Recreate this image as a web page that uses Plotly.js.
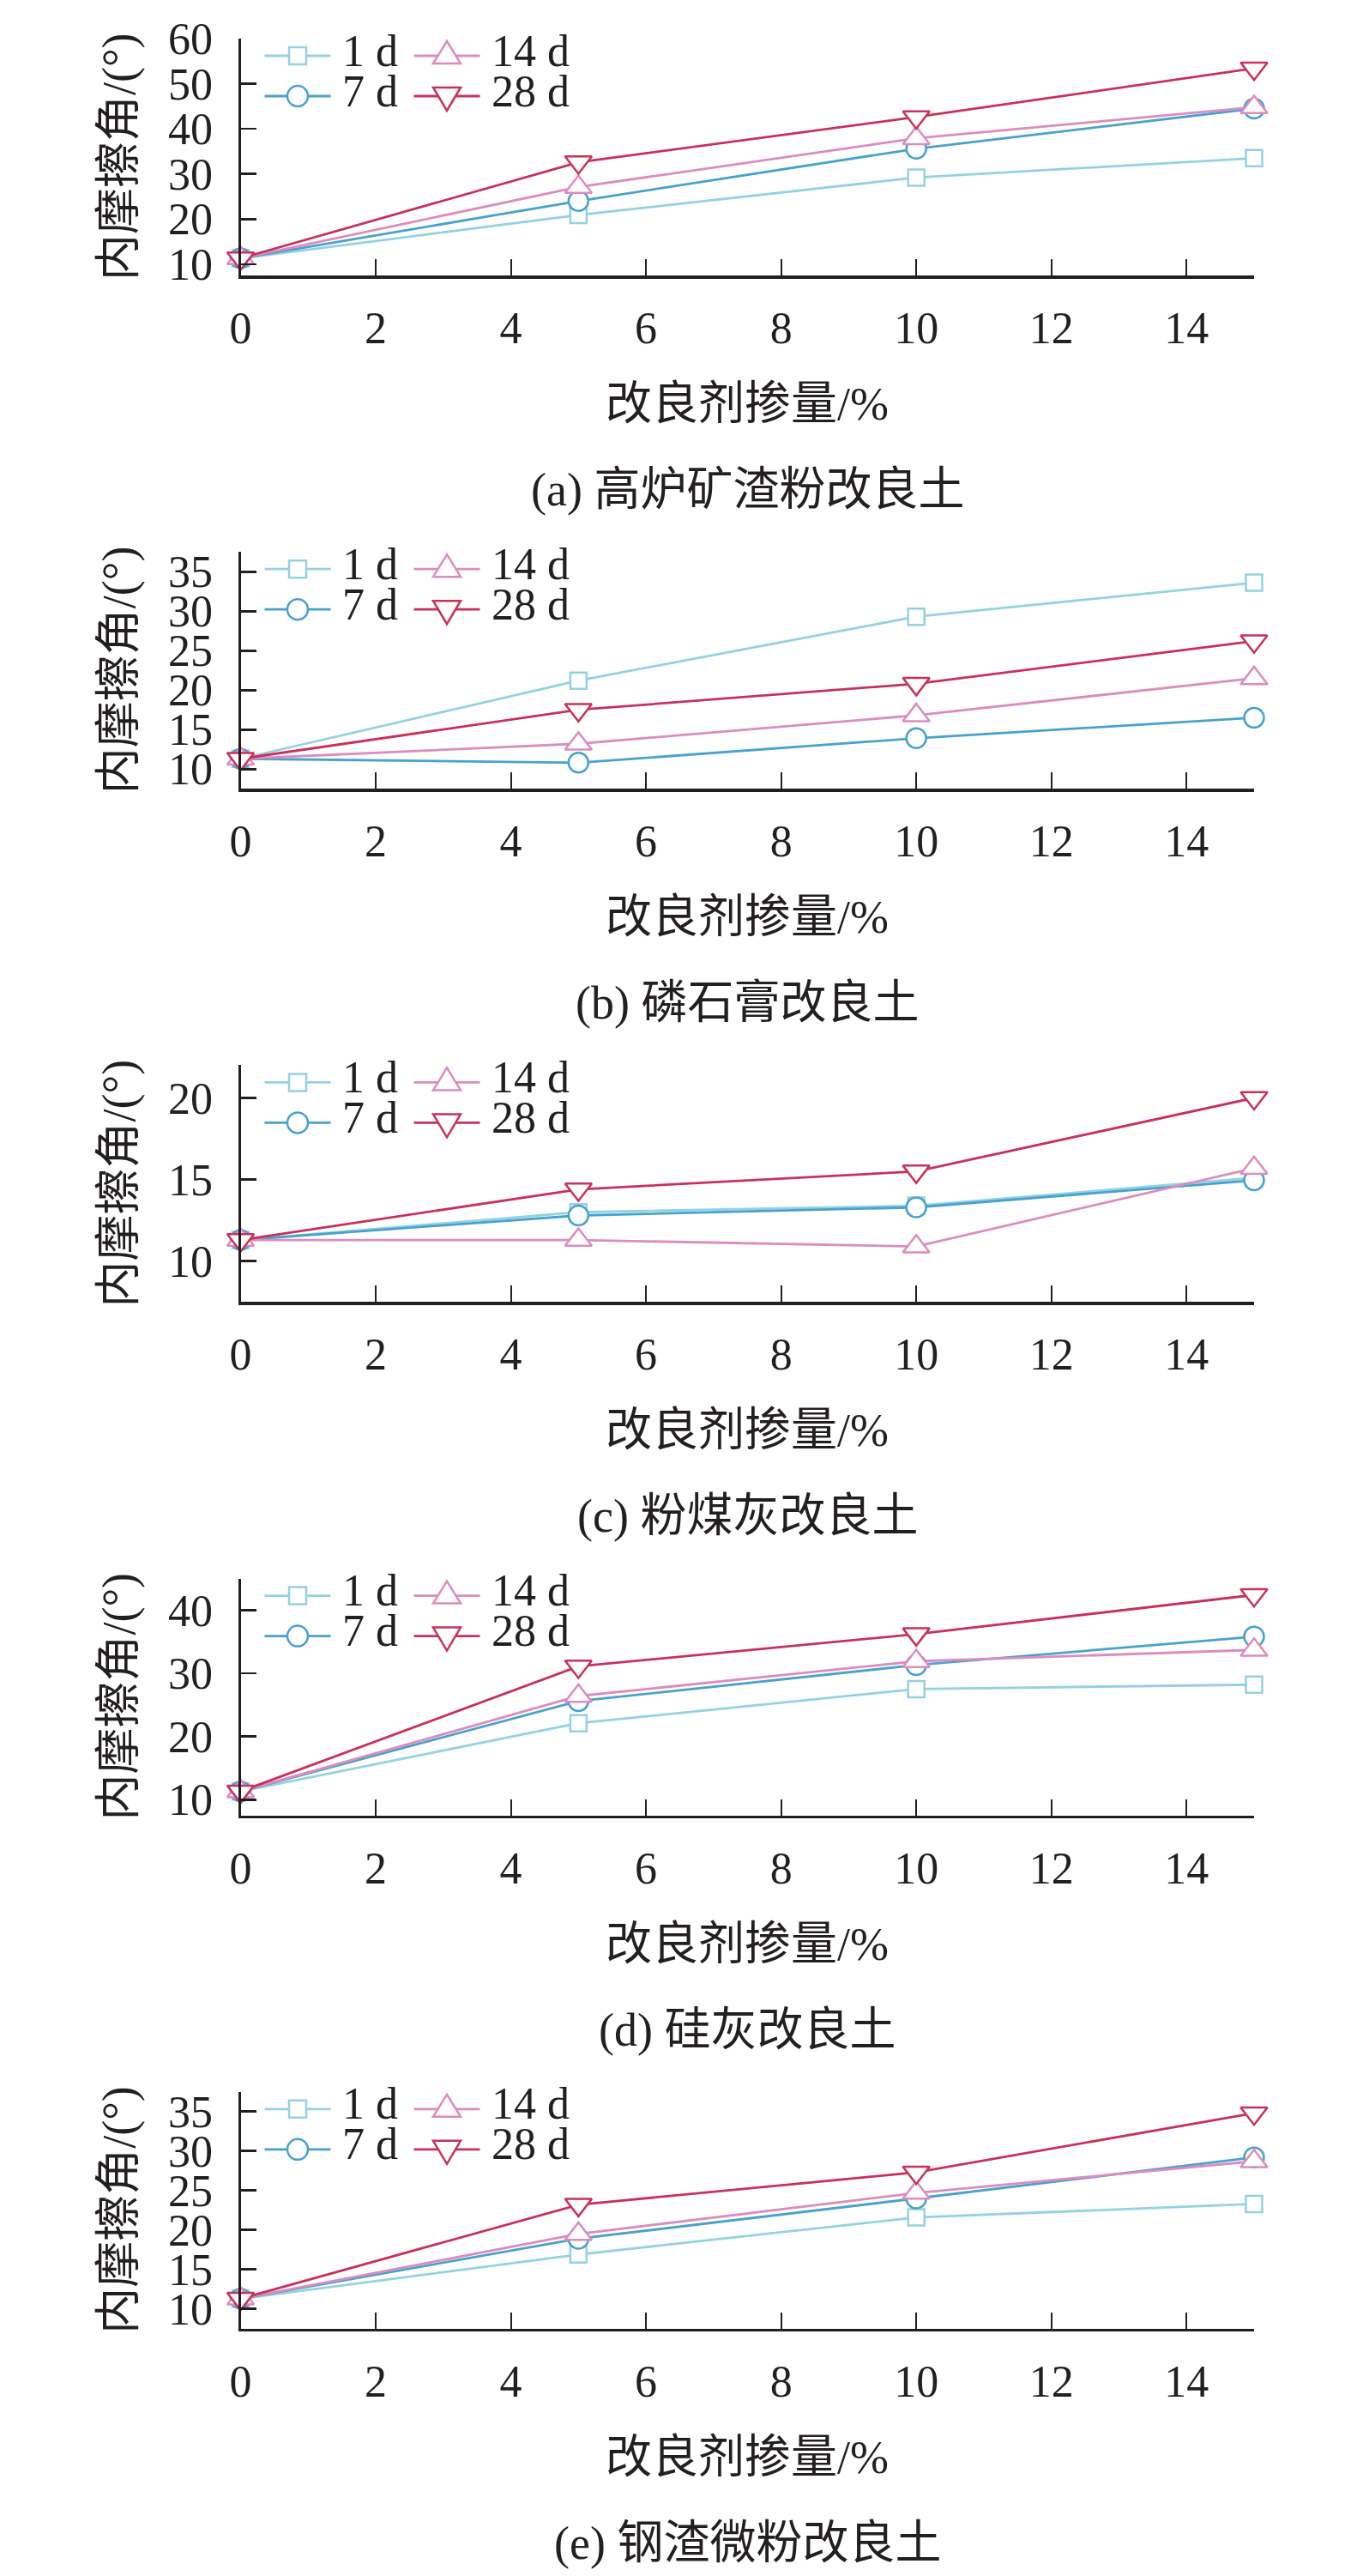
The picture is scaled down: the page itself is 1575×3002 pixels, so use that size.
<!DOCTYPE html>
<html>
<head>
<meta charset="utf-8">
<script src="https://cdn.plot.ly/plotly-3.0.1.min.js"></script>
<style>
  html, body { margin: 0; padding: 0; background: #fff; }
  #chart { width: 1575px; height: 3002px; }
</style>
</head>
<body>
<div id="chart"></div>
<script>
// dosage of the improver (%)
const dosage = [0, 5, 10, 15];
const ages = ['1 d', '7 d', '14 d', '28 d'];

// internal friction angle (°), rows: 1 d, 7 d, 14 d, 28 d
const slagPowder = [
  [11.3, 20.9, 29.2, 33.5],
  [11.3, 24.0, 35.6, 44.5],
  [11.3, 27.1, 37.9, 44.8],
  [11.3, 32.6, 42.6, 53.4],
];
const phosphogypsum = [
  [11.3, 21.2, 29.3, 33.6],
  [11.3, 10.8, 13.9, 16.5],
  [11.3, 13.2, 16.8, 21.5],
  [11.3, 17.5, 20.8, 26.2],
];
const flyAsh = [
  [11.3, 13.0, 13.4, 15.1],
  [11.3, 12.8, 13.3, 14.95],
  [11.3, 11.3, 10.9, 15.7],
  [11.3, 14.4, 15.5, 20.0],
];
const silicaFume = [
  [11.3, 22.1, 27.5, 28.2],
  [11.3, 25.6, 31.3, 35.8],
  [11.3, 26.4, 31.9, 33.7],
  [11.3, 31.1, 36.2, 42.4],
];
const steelSlag = [
  [11.3, 16.9, 21.6, 23.3],
  [11.3, 18.9, 24.0, 29.2],
  [11.3, 19.5, 24.7, 28.7],
  [11.3, 23.2, 27.3, 34.8],
];

const captions = [
  '(a) 高炉矿渣粉改良土',
  '(b) 磷石膏改良土',
  '(c) 粉煤灰改良土',
  '(d) 硅灰改良土',
  '(e) 钢渣微粉改良土',
];
const xTitle = '改良剂掺量/%';
const yTitle = '内摩擦角/(°)';
const xTicks = [0, 2, 4, 6, 8, 10, 12, 14];
const yTicks = [
  [10, 20, 30, 40, 50, 60],
  [10, 15, 20, 25, 30, 35],
  [10, 15, 20],
  [10, 20, 30, 40],
  [10, 15, 20, 25, 30, 35],
];
const yRanges = [[7.5, 60], [7.5, 37.5], [7.5, 22], [7.5, 45], [7.5, 37.5]];

const panels = [slagPowder, phosphogypsum, flyAsh, silicaFume, steelSlag];

// look
const colors = ['#93d2e2', '#47a2d0', '#dd8cbf', '#c9315a'];
const symbols = ['square', 'circle', 'triangle-up', 'triangle-down'];
const sizes = [19, 23, 27, 27];
const FONT = '"Liberation Serif", "Noto Sans CJK SC", serif';
const INK = '#231f20';

// page geometry in pixels
const W = 1575;
const H = 3002;
const plotLeft = 280.5;
const plotRight = 1462;
const firstTop = 45;
const plotHeight = 276;
const pitch = 598.2;
const px = (x) => x / W;
const py = (y) => 1 - y / H;

const data = [];
const layout = {
  width: W,
  height: H,
  margin: { l: 0, r: 0, t: 0, b: 0 },
  paper_bgcolor: '#fff',
  plot_bgcolor: 'rgba(0,0,0,0)',
  showlegend: false,
  font: { family: FONT, size: 52, color: INK },
  shapes: [],
  annotations: [],
};

panels.forEach((values, p) => {
  const suffix = p === 0 ? '' : String(p + 1);
  const top = firstTop + pitch * p;
  const bottom = top + plotHeight;

  values.forEach((ys, i) => {
    data.push({
      type: 'scatter',
      mode: 'lines+markers',
      name: ages[i],
      x: dosage,
      y: ys,
      xaxis: 'x' + suffix,
      yaxis: 'y' + suffix,
      cliponaxis: false,
      line: { color: colors[i], width: 2.8 },
      marker: {
        symbol: symbols[i],
        size: sizes[i],
        color: '#fff',
        line: { color: colors[i], width: 2.5 },
      },
      hoverinfo: 'x+y',
    });
  });

  layout['xaxis' + suffix] = {
    domain: [px(plotLeft), px(plotRight)],
    anchor: 'y' + suffix,
    range: [0, 15],
    tickvals: xTicks,
    ticks: 'inside',
    ticklen: 19,
    tickwidth: 2,
    tickcolor: INK,
    ticklabelstandoff: 13,
    showline: true,
    linecolor: INK,
    linewidth: 3.5,
    showgrid: false,
    zeroline: false,
    automargin: false,
    tickfont: { size: 52 },
  };
  layout['yaxis' + suffix] = {
    domain: [py(bottom), py(top)],
    anchor: 'x' + suffix,
    range: yRanges[p],
    tickvals: yTicks[p],
    ticks: 'inside',
    ticklen: 18,
    tickwidth: 2.7,
    tickcolor: INK,
    ticklabelstandoff: 19,
    showline: true,
    linecolor: INK,
    linewidth: 3,
    showgrid: false,
    zeroline: false,
    automargin: false,
    tickfont: { size: 52 },
  };

  // axis titles and caption, placed by hand
  layout.annotations.push({
    xref: 'paper', yref: 'paper',
    x: px(139), y: py((top + bottom) / 2),
    xanchor: 'center', yanchor: 'middle',
    textangle: -90,
    showarrow: false,
    text: yTitle,
    font: { size: 54 },
  });
  layout.annotations.push({
    xref: 'paper', yref: 'paper',
    x: px((plotLeft + plotRight) / 2), y: py(bottom + 150),
    xanchor: 'center', yanchor: 'middle',
    showarrow: false,
    text: xTitle,
    font: { size: 54 },
  });
  layout.annotations.push({
    xref: 'paper', yref: 'paper',
    x: px((plotLeft + plotRight) / 2), y: py(bottom + 250),
    xanchor: 'center', yanchor: 'middle',
    showarrow: false,
    text: captions[p],
    font: { size: 54 },
  });

  // legend drawn by hand: two columns, two rows
  ages.forEach((label, i) => {
    const col = i < 2 ? 0 : 1;
    const row = i % 2;
    const xs = plotLeft + 28 + col * 174;
    const yRow = top + 20 + row * 47;
    const cx = xs + 38.5;
    layout.shapes.push({
      type: 'line', xref: 'paper', yref: 'paper',
      x0: px(xs), x1: px(xs + 77), y0: py(yRow), y1: py(yRow),
      line: { color: colors[i], width: 2.8 },
    });
    const mk = {
      xref: 'paper', yref: 'paper',
      xsizemode: 'pixel', ysizemode: 'pixel',
      xanchor: px(cx), yanchor: py(yRow),
      fillcolor: '#fff',
      line: { color: colors[i], width: 2.5 },
    };
    if (symbols[i] === 'square') {
      layout.shapes.push({ ...mk, type: 'rect', x0: -10, x1: 10, y0: -10, y1: 10 });
    } else if (symbols[i] === 'circle') {
      layout.shapes.push({ ...mk, type: 'circle', x0: -12, x1: 12, y0: -12, y1: 12 });
    } else if (symbols[i] === 'triangle-up') {
      layout.shapes.push({ ...mk, type: 'path', path: 'M-16,-9 L16,-9 L0,17 Z' });
    } else {
      layout.shapes.push({ ...mk, type: 'path', path: 'M-16,10 L16,10 L0,-17 Z' });
    }
    layout.annotations.push({
      xref: 'paper', yref: 'paper',
      x: px(xs + 88), y: py(yRow - 6),
      xanchor: 'left', yanchor: 'middle',
      showarrow: false,
      text: label,
      font: { size: 52 },
    });
  });
});

Plotly.newPlot('chart', data, layout, { displayModeBar: false, staticPlot: true });
</script>
</body>
</html>
